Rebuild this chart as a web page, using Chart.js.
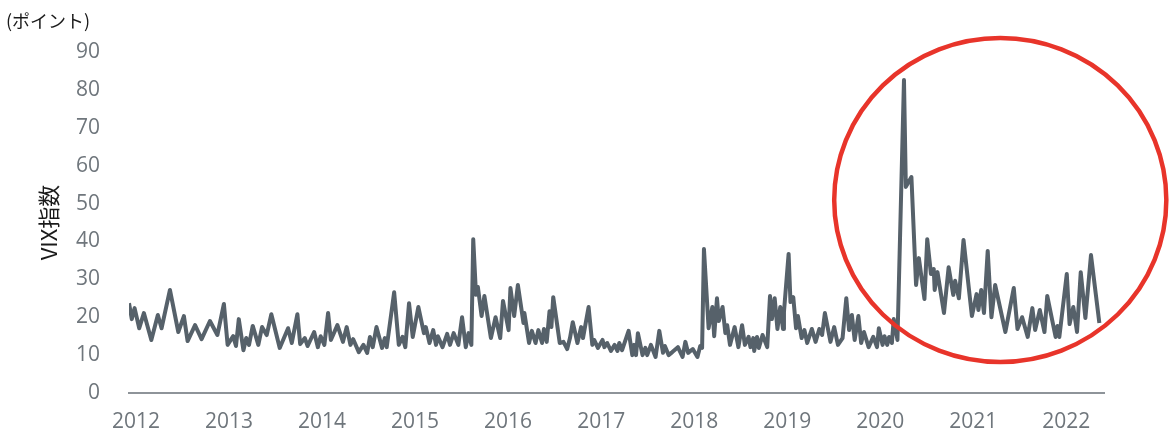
<!DOCTYPE html>
<html><head><meta charset="utf-8">
<script src="https://cdn.jsdelivr.net/npm/chart.js@4/dist/chart.umd.min.js"></script>
<style>html,body{margin:0;padding:0;background:#fff}#wrap{width:1174px;height:440px}</style>
</head><body><div id="wrap"><canvas id="c"></canvas></div>
<script>
const yearLabels = ['2012','2013','2014','2015','2016','2017','2018','2019','2020','2021','2022'];
const yTicks = [0,10,20,30,40,50,60,70,80,90];
const times = [
2012.00,2012.03,2012.06,2012.11,2012.16,2012.24,2012.31,2012.35,2012.44,2012.53,
2012.59,2012.63,2012.71,2012.78,2012.87,2012.95,2013.02,2013.06,2013.12,2013.15,
2013.18,2013.23,2013.26,2013.29,2013.33,2013.39,2013.43,2013.48,2013.53,2013.62,
2013.71,2013.75,2013.81,2013.84,2013.89,2013.92,2013.99,2014.03,2014.06,2014.10,
2014.14,2014.17,2014.24,2014.30,2014.34,2014.38,2014.41,2014.47,2014.52,2014.56,
2014.59,2014.62,2014.66,2014.72,2014.75,2014.77,2014.85,2014.90,2014.94,2014.97,
2015.01,2015.05,2015.11,2015.17,2015.19,2015.23,2015.27,2015.30,2015.32,2015.37,
2015.42,2015.45,2015.49,2015.54,2015.58,2015.62,2015.65,2015.68,2015.70,2015.73,
2015.75,2015.79,2015.82,2015.89,2015.94,2015.99,2016.02,2016.08,2016.10,2016.14,
2016.18,2016.24,2016.25,2016.30,2016.33,2016.37,2016.40,2016.44,2016.46,2016.49,
2016.52,2016.54,2016.56,2016.63,2016.67,2016.71,2016.74,2016.77,2016.82,2016.86,
2016.88,2016.94,2016.98,2017.00,2017.04,2017.09,2017.11,2017.14,2017.18,2017.22,
2017.25,2017.27,2017.30,2017.33,2017.37,2017.41,2017.43,2017.45,2017.47,2017.52,
2017.55,2017.57,2017.61,2017.66,2017.70,2017.74,2017.76,2017.80,2017.84,2017.90,
2017.95,2017.98,2018.01,2018.06,2018.11,2018.14,2018.16,2018.18,2018.23,2018.27,
2018.29,2018.32,2018.34,2018.38,2018.41,2018.43,2018.46,2018.51,2018.55,2018.59,
2018.62,2018.66,2018.68,2018.71,2018.72,2018.75,2018.77,2018.81,2018.86,2018.89,
2018.91,2018.94,2018.97,2019.00,2019.03,2019.04,2019.09,2019.11,2019.14,2019.17,
2019.19,2019.23,2019.26,2019.29,2019.34,2019.38,2019.42,2019.45,2019.48,2019.54,
2019.58,2019.62,2019.67,2019.71,2019.74,2019.77,2019.80,2019.84,2019.87,2019.90,
2019.95,2020.00,2020.04,2020.06,2020.10,2020.12,2020.15,2020.17,2020.20,2020.22,
2020.26,2020.33,2020.35,2020.41,2020.46,2020.49,2020.55,2020.58,2020.62,2020.65,
2020.66,2020.69,2020.76,2020.81,2020.86,2020.88,2020.92,2020.97,2021.06,2021.11,
2021.13,2021.16,2021.19,2021.23,2021.27,2021.31,2021.42,2021.51,2021.55,2021.60,
2021.66,2021.71,2021.74,2021.79,2021.84,2021.87,2021.96,2021.98,2022.00,2022.08,
2022.11,2022.15,2022.19,2022.23,2022.28,2022.34,2022.43];
const vix = [
23.7,19.5,22.4,17.1,21.1,14.0,20.6,17.1,27.2,16.1,
20.3,13.7,17.9,14.2,19.0,15.3,23.5,12.7,15.0,12.4,
19.5,11.3,14.5,12.7,17.7,12.7,17.4,15.3,20.8,11.9,
17.1,13.2,20.8,12.9,14.5,12.4,16.1,12.1,15.0,12.7,
21.1,14.0,17.9,13.5,17.4,12.7,14.2,10.8,12.7,10.6,
14.8,12.1,17.4,11.9,14.5,12.1,26.6,12.7,14.8,12.1,
23.7,14.8,22.7,15.8,17.4,13.2,16.6,12.7,15.0,12.1,
15.6,12.7,15.8,12.7,20.0,12.1,15.8,12.7,40.6,25.9,
28.0,20.3,25.6,14.5,20.0,14.5,24.3,16.6,27.7,20.3,
28.5,18.5,21.1,13.2,16.4,13.2,16.6,13.2,16.9,13.5,
21.6,17.4,25.3,13.2,13.5,11.6,14.5,18.7,13.2,17.4,
14.5,22.7,12.7,14.0,11.9,14.0,12.1,13.2,11.1,12.7,
11.1,13.2,11.3,13.5,16.4,10.0,12.7,10.0,15.8,10.0,
11.9,10.0,12.7,9.5,16.4,10.6,12.4,10.0,10.8,12.1,
9.5,13.5,10.6,11.6,9.5,12.4,11.9,38.0,17.1,22.7,
15.0,25.0,19.0,22.7,15.8,17.9,12.7,17.4,12.1,17.9,
12.7,14.8,12.1,14.5,11.1,14.8,11.9,15.3,12.1,25.6,
19.5,25.0,16.9,22.7,16.9,21.4,36.7,24.0,25.3,17.1,
20.3,14.5,16.6,13.2,16.9,13.5,16.9,15.3,21.1,13.5,
17.4,12.7,14.5,25.0,16.6,20.6,14.0,20.3,13.2,16.1,
12.1,14.8,12.1,17.1,12.7,15.0,12.7,14.8,13.2,19.5,
14.0,82.6,54.4,57.0,28.5,35.6,24.8,40.6,31.4,32.7,
27.2,31.9,21.1,33.2,25.9,29.6,25.0,40.4,20.3,26.1,
21.9,27.2,21.1,37.5,20.0,28.5,16.1,27.7,16.9,20.0,
14.8,22.4,16.6,21.9,16.1,25.6,14.8,17.7,14.8,31.4,
18.2,22.7,16.1,31.9,19.8,36.4,18.5];
// highlight ellipse bounds in data units (years / index points)
const highlightX = [2019.58, 2023.15];
const highlightY = [8.2, 93.7];
const LABEL_OFFSET = 0.075;

const annot = {
  id: 'annot',
  afterDraw(chart) {
    const {ctx, scales:{x, y}} = chart;
    const x0 = x.getPixelForValue(highlightX[0]), x1 = x.getPixelForValue(highlightX[1]);
    const y0 = y.getPixelForValue(highlightY[1]), y1 = y.getPixelForValue(highlightY[0]);
    ctx.save();
    ctx.beginPath();
    ctx.ellipse((x0+x1)/2, (y0+y1)/2, (x1-x0)/2, (y1-y0)/2, 0, 0, Math.PI*2);
    ctx.strokeStyle = '#e8342a';
    ctx.lineWidth = 4.5;
    ctx.stroke();
    ctx.fillStyle = '#1a1a1a';
    ctx.font = '18px "Noto Sans CJK JP"';
    ctx.textBaseline = 'middle';
    ctx.textAlign = 'left';
    ctx.fillText('(ポイント)', 6, 21);
    ctx.restore();
  }
};

new Chart(document.getElementById('c'), {
  type: 'line',
  data: { datasets: [{
    data: times.map((t, i) => ({x: t, y: vix[i]})),
    borderColor: '#56616a', borderWidth: 4, pointRadius: 0, tension: 0,
    borderJoinStyle: 'round', fill: false
  }]},
  options: {
    responsive: true, maintainAspectRatio: false, animation: false,
    layout: { padding: { top: 52, right: 70, left: 0, bottom: 0 } },
    plugins: { legend: { display: false }, tooltip: { enabled: false } },
    scales: {
      x: {
        type: 'linear', min: 2012, max: 2022.48,
        afterBuildTicks: s => { s.ticks = yearLabels.map(l => ({ value: Number(l) + LABEL_OFFSET })); },
        afterFit: s => { s.height = 47; },
        ticks: { callback: (v, i) => yearLabels[i], color: '#6f767c', padding: 16, maxRotation: 0, autoSkip: false,
                 font: { family: '"Open Sans"', size: 21 } },
        grid: { display: false, drawTicks: false },
        border: { display: true, color: '#8e9499', width: 2 }
      },
      y: {
        min: 0, max: 90,
        afterBuildTicks: s => { s.ticks = yTicks.map(v => ({ value: v })); },
        afterFit: s => { s.width = 129; },
        ticks: { color: '#6f767c', padding: 29, font: { family: '"Open Sans"', size: 21 } },
        grid: { display: false, drawTicks: false },
        border: { display: false },
        title: { display: true, text: 'VIX指数', color: '#1a1a1a', padding: { top: 35, bottom: 0 },
                 font: { family: '"Noto Sans CJK JP"', size: 22 } }
      }
    }
  },
  plugins: [annot]
});
</script></body></html>
